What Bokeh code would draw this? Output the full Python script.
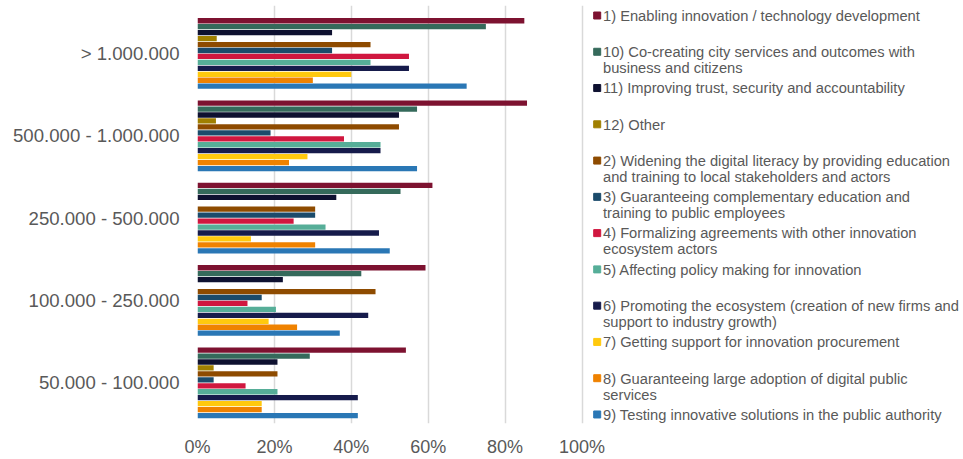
from bokeh.plotting import figure
from bokeh.models import Range1d, FixedTicker, PrintfTickFormatter, ColumnDataSource
from bokeh.transform import dodge
from bokeh.core.properties import value
from bokeh.embed import file_html
from bokeh.resources import INLINE

# ---------------- data ----------------
categories = ["> 1.000.000", "500.000 - 1.000.000", "250.000 - 500.000",
              "100.000 - 250.000", "50.000 - 100.000"]

series_names = [
    "1) Enabling innovation / technology development",
    "10) Co-creating city services and outcomes with\nbusiness and citizens",
    "11) Improving trust, security and accountability",
    "12) Other",
    "2) Widening the digital literacy by providing education\nand training to local stakeholders and actors",
    "3) Guaranteeing complementary education and\ntraining to public employees",
    "4) Formalizing agreements with other innovation\necosystem actors",
    "5) Affecting policy making for innovation",
    "6) Promoting the ecosystem (creation of new firms and\nsupport to industry growth)",
    "7) Getting support for innovation procurement",
    "8) Guaranteeing large adoption of digital public\nservices",
    "9) Testing innovative solutions in the public authority",
]
series_colors = ["#7D1230", "#356A5B", "#0E1130", "#A07F00", "#8E4B00", "#1B4B6B",
                 "#D0173F", "#56AE98", "#161B4B", "#FFC90E", "#EF8200", "#2A77B5"]

# values in % for categories in the order above (top to bottom)
s1 = [85.0, 85.7, 61.1, 59.3, 54.2]
s10 = [75.0, 57.1, 52.8, 42.6, 29.2]
s11 = [35.0, 52.4, 36.1, 22.2, 20.8]
s12 = [5.0, 4.8, 0.0, 0.0, 4.2]
s2 = [45.0, 52.4, 30.6, 46.3, 20.8]
s3 = [35.0, 19.0, 30.6, 16.7, 4.2]
s4 = [55.0, 38.1, 25.0, 13.0, 12.5]
s5 = [45.0, 47.6, 33.3, 20.4, 20.8]
s6 = [55.0, 47.6, 47.2, 44.4, 41.7]
s7 = [40.0, 28.6, 13.9, 18.5, 16.7]
s8 = [30.0, 23.8, 30.6, 25.9, 16.7]
s9 = [70.0, 57.1, 50.0, 37.0, 41.7]
series_values = [s1, s10, s11, s12, s2, s3, s4, s5, s6, s7, s8, s9]

x_ticks = [0, 20, 40, 60, 80, 100]

# ---------------- layout (pixel geometry of the page) ----------------
FONT = "Liberation Sans"
GREY = "#595959"
W, H = 963, 459
FL = 197          # frame left (0 %)
FT = 5            # frame top
FB = 423          # frame bottom
frame_w = W - FL
frame_h = FB - FT
px_per_pct = 3.845
px_per_cat = 82.33
bottom_center = 382.3

n_cat = len(categories)
y_centers = [n_cat - 1 - i + 0.5 for i in range(n_cat)]
y_start = 0.5 - (FB - bottom_center) / px_per_cat
y_end = y_start + frame_h / px_per_cat

p = figure(width=W, height=H, output_backend="svg", toolbar_location=None,
           x_range=Range1d(0, frame_w / px_per_pct), y_range=Range1d(y_start, y_end),
           min_border_left=FL, min_border_right=0, min_border_top=FT,
           min_border_bottom=H - FB)
p.outline_line_color = None
p.background_fill_color = "white"
p.border_fill_color = "white"

# pixel-like ranges for the hand-drawn legend
p.extra_x_ranges = {"lx": Range1d(FL, W)}
p.extra_y_ranges = {"ly": Range1d(FB, FT)}

n_ser = len(series_values)
pitch = 5.95 / px_per_cat
bar_h = 5.3 / px_per_cat
for j, (vals, col) in enumerate(zip(series_values, series_colors)):
    src = ColumnDataSource(dict(y=y_centers, v=vals))
    off = ((n_ser - 1) / 2 - j) * pitch
    p.hbar(y=dodge("y", off), left=0, right="v", height=bar_h, source=src,
           fill_color=col, line_color=None)

# legend drawn manually
leg_y = [15 + i * 36.27 for i in range(n_ser)]
leg_src = ColumnDataSource(dict(x=[596.7] * n_ser, tx=[602.5] * n_ser, y=leg_y,
                                ty=[yy - 7.7 for yy in leg_y],
                                t=series_names, c=series_colors))
p.scatter(x="x", y="y", marker="square", size=7, color="c", source=leg_src,
          x_range_name="lx", y_range_name="ly")
p.text(x="tx", y="ty", text="t", source=leg_src, x_range_name="lx", y_range_name="ly",
       text_font=value(FONT), text_font_size=value("14.7px"), text_color=GREY,
       text_baseline="top", text_align="left", text_line_height=1.0)

# axes
p.xaxis.ticker = FixedTicker(ticks=x_ticks)
p.xaxis.formatter = PrintfTickFormatter(format="%d%%")
p.xaxis.axis_line_color = None
p.xaxis.major_tick_line_color = None
p.xaxis.minor_tick_line_color = None
p.xaxis.major_label_text_font = FONT
p.xaxis.major_label_text_font_size = "18px"
p.xaxis.major_label_text_color = GREY
p.xaxis.major_label_standoff = 7

p.yaxis.ticker = FixedTicker(ticks=y_centers)
p.yaxis.major_label_overrides = {yc: c for yc, c in zip(y_centers, categories)}
p.yaxis.axis_line_color = None
p.yaxis.major_tick_line_color = None
p.yaxis.minor_tick_line_color = None
p.yaxis.major_label_text_font = FONT
p.yaxis.major_label_text_font_size = "18.6px"
p.yaxis.major_label_text_color = GREY
p.yaxis.major_label_standoff = 12

p.xgrid.grid_line_color = "#D9D9D9"
p.xgrid.grid_line_width = 1.5
p.ygrid.grid_line_color = None

open("out.html", "w").write(file_html(p, INLINE))
